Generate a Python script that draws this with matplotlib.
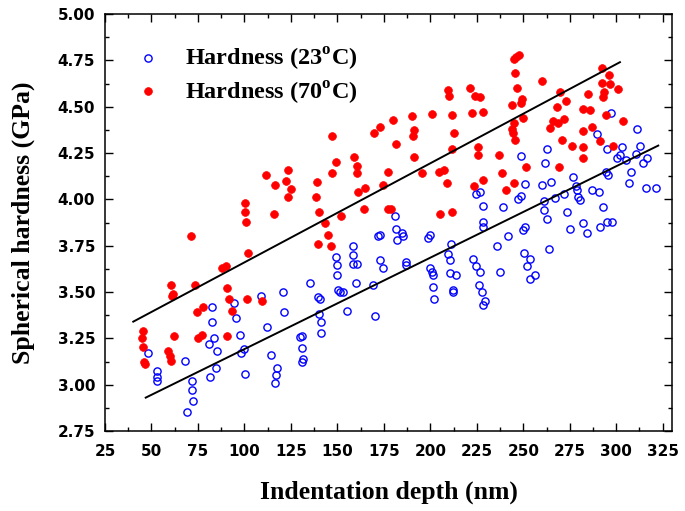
import matplotlib
matplotlib.use("Agg")
import matplotlib.pyplot as plt
from matplotlib.ticker import MultipleLocator

# ---- data ----
blue_x = [108.9, 120.9, 82.4, 94.6, 121.3, 82.7, 95.5, 112.0, 83.6, 81.0, 85.2, 97.6, 99.9, 98.2, 114.3,
          48.0, 68.0, 84.7, 81.5, 100.3, 117.7, 117.0, 116.4, 52.8, 52.8, 53.1, 71.6, 72.0, 72.5, 69.0,
          130.8, 129.9, 130.8, 131.7, 131.1, 141.0, 140.1, 141.2, 139.4, 140.7, 135.3, 150.5, 151.4, 153.2,
          155.0, 149.3, 149.6, 150.0, 158.2, 158.6, 158.6, 160.4, 160.0, 169.3, 170.2, 172.9, 174.4, 172.9,
          172.0, 181.0, 181.5, 185.0, 185.1, 182.2, 186.7, 186.7, 199.8, 198.9, 199.8, 200.7, 201.6, 201.6,
          202.1, 209.7, 210.6, 211.1, 210.6, 213.8, 212.4, 212.0, 222.7, 224.4, 226.7, 226.3, 227.6, 229.4,
          228.2, 226.7, 224.4, 228.2, 228.5, 228.2,
          297.2, 311.0, 289.8, 262.6, 294.8, 302.9, 312.8, 248.6, 261.7, 300.2, 302.0, 305.0, 310.9, 316.7,
          314.6, 294.3, 295.4, 307.8, 306.9, 276.9, 315.8, 321.4, 251.1, 259.9, 264.9, 278.4, 278.8, 279.6,
          280.5, 287.1, 290.7, 272.0, 267.1, 248.8, 247.0, 239.3, 261.2, 261.4, 263.0, 273.3, 292.7, 250.9,
          250.0, 241.9, 236.0, 275.1, 282.3, 284.1, 291.3, 294.8, 297.5, 264.0, 250.4, 253.6, 251.8, 256.3,
          253.6, 237.5]
blue_y = [3.48, 3.50, 3.42, 3.44, 3.39, 3.34, 3.36, 3.31, 3.25, 3.22, 3.18, 3.27, 3.19, 3.17, 3.16,
          3.17, 3.13, 3.09, 3.04, 3.06, 3.09, 3.05, 3.01, 3.075, 3.04, 3.02, 3.02, 2.97, 2.91, 2.85,
          3.26, 3.255, 3.20, 3.14, 3.12, 3.28, 3.38, 3.34, 3.475, 3.46, 3.55, 3.51, 3.50, 3.50,
          3.40, 3.69, 3.645, 3.59, 3.75, 3.70, 3.65, 3.65, 3.55, 3.54, 3.37, 3.67, 3.63, 3.81,
          3.80, 3.91, 3.84, 3.82, 3.80, 3.78, 3.66, 3.645, 3.81, 3.79, 3.63, 3.61, 3.59, 3.525,
          3.46, 3.705, 3.67, 3.76, 3.60, 3.59, 3.51, 3.50, 3.68, 3.64, 3.61, 3.54, 3.50, 3.45,
          3.43, 4.04, 4.03, 3.965, 3.88, 3.85,
          4.465, 4.38, 4.35, 4.27, 4.27, 4.28, 4.29, 4.235, 4.195, 4.225, 4.24, 4.21, 4.245, 4.225,
          4.195, 4.145, 4.13, 4.145, 4.09, 4.12, 4.06, 4.06, 4.085, 4.08, 4.095, 4.07, 4.05, 4.01,
          3.995, 4.05, 4.04, 4.03, 4.005, 4.02, 4.00, 3.96, 3.99, 3.94, 3.895, 3.93, 3.96, 3.85,
          3.835, 3.80, 3.75, 3.84, 3.87, 3.82, 3.85, 3.88, 3.88, 3.73, 3.71, 3.68, 3.64, 3.59,
          3.57, 3.61]

red_x = [60.3, 73.4, 61.7, 60.9, 90.5, 91.9, 101.2, 109.3, 77.9, 74.3, 93.1, 45.6, 44.7, 45.6, 46.0,
         46.3, 62.1, 59.1, 60.0, 60.3, 75.2, 77.0, 90.8,
         111.6, 123.6, 116.4, 122.2, 124.9, 123.6, 115.9, 100.3, 100.3, 100.7, 71.3, 101.8, 87.8, 89.9,
         209.7, 210.2, 221.3, 224.0, 226.7, 222.3, 228.2, 211.5, 200.7, 190.3, 180.1, 172.9, 169.9, 191.2,
         190.8, 212.7, 147.3, 181.5, 211.8, 225.9, 225.4, 191.4, 159.0, 160.4, 160.4, 149.3, 147.0, 177.1,
         195.7, 207.5, 204.4, 208.8, 228.2, 223.7, 174.7, 164.9, 161.3, 138.9, 138.5, 164.3, 177.4, 178.8,
         140.2, 151.8, 205.2, 211.8, 143.3, 145.1, 139.7, 146.4,
         247.7, 246.1, 245.0, 292.5, 296.1, 245.5, 259.9, 292.1, 296.6, 301.1, 293.6, 293.0, 246.8, 269.8,
         272.8, 268.0, 284.6, 249.1, 248.6, 243.8, 282.3, 285.9, 294.3, 303.4, 250.0, 266.1, 268.8, 272.0,
         264.4, 245.0, 243.8, 244.3, 245.5, 282.3, 286.8, 270.7, 276.4, 282.0, 282.3, 291.3, 298.1, 236.9,
         251.5, 269.2, 238.7, 245.0, 240.7]
red_y = [3.54, 3.54, 3.49, 3.48, 3.52, 3.46, 3.46, 3.45, 3.42, 3.39, 3.40, 3.29, 3.25, 3.205, 3.12,
         3.11, 3.26, 3.18, 3.155, 3.13, 3.25, 3.27, 3.26,
         4.13, 4.16, 4.08, 4.10, 4.055, 4.01, 3.92, 3.98, 3.93, 3.88, 3.80, 3.71, 3.63, 3.64,
         4.59, 4.555, 4.60, 4.56, 4.55, 4.465, 4.47, 4.455, 4.46, 4.45, 4.43, 4.39, 4.36, 4.375,
         4.34, 4.36, 4.34, 4.30, 4.27, 4.285, 4.24, 4.23, 4.23, 4.18, 4.14, 4.20, 4.14, 4.145,
         4.14, 4.16, 4.145, 4.09, 4.105, 4.07, 4.08, 4.06, 4.04, 4.095, 4.015, 3.95, 3.95, 3.95,
         3.93, 3.91, 3.92, 3.93, 3.875, 3.81, 3.76, 3.75,
         4.78, 4.77, 4.755, 4.71, 4.67, 4.68, 4.64, 4.63, 4.62, 4.595, 4.58, 4.55, 4.60, 4.58,
         4.53, 4.50, 4.57, 4.54, 4.52, 4.51, 4.49, 4.48, 4.455, 4.42, 4.44, 4.425, 4.41, 4.435,
         4.385, 4.41, 4.38, 4.36, 4.32, 4.37, 4.39, 4.32, 4.29, 4.285, 4.225, 4.315, 4.29, 4.24,
         4.175, 4.175, 4.14, 4.09, 4.05]

upper_line_x = [40.2, 302.0]
upper_line_y = [3.34, 4.74]
lower_line_x = [46.9, 322.6]
lower_line_y = [2.93, 4.29]

x_ticks = [25, 50, 75, 100, 125, 150, 175, 200, 225, 250, 275, 300, 325]
y_ticks = [2.75, 3.00, 3.25, 3.50, 3.75, 4.00, 4.25, 4.50, 4.75, 5.00]

label_blue = "Hardness (23$^{\\mathregular{o}}$C)"
label_red = "Hardness (70$^{\\mathregular{o}}$C)"

# ---- figure ----
fig = plt.figure(figsize=(6.85, 5.11), dpi=100)
ax = fig.add_axes([105/685, 80/511, 567/685, 417/511])

serif = "Liberation Serif"

ax.plot(blue_x, blue_y, linestyle="none", marker="o", markersize=5.2, markerfacecolor="none",
        markeredgecolor="#0000ff", markeredgewidth=1.0, label=label_blue)
ax.plot(red_x, red_y, linestyle="none", marker="o", markersize=5.6, markerfacecolor="#ff0000",
        markeredgecolor="#ff0000", markeredgewidth=0.5, label=label_red)
ax.plot(upper_line_x, upper_line_y, color="black", linewidth=1.4)
ax.plot(lower_line_x, lower_line_y, color="black", linewidth=1.4)

ax.set_xlim(25, 330)
ax.set_ylim(2.75, 5.00)
ax.set_xticks(x_ticks)
ax.set_yticks(y_ticks)
ax.set_xticklabels([str(t) for t in x_ticks])
ax.set_yticklabels(["%.2f" % t for t in y_ticks])
ax.xaxis.set_minor_locator(MultipleLocator(12.5))
ax.yaxis.set_minor_locator(MultipleLocator(0.125))

ax.tick_params(which="both", direction="in", top=True, right=True, width=1.0, color="black")
ax.tick_params(which="major", length=5.5)
ax.tick_params(which="minor", length=3.2)
ax.tick_params(axis="x", which="major", pad=9)
ax.tick_params(axis="y", which="major", pad=7)
for lab in ax.get_xticklabels() + ax.get_yticklabels():
    lab.set_fontfamily("DejaVu Sans")
    lab.set_fontweight("bold")
    lab.set_fontsize(11)
for sp in ax.spines.values():
    sp.set_linewidth(1.1)

ax.set_xlabel("Indentation depth (nm)", fontfamily=serif, fontweight="bold", fontsize=18.5, labelpad=16)
ax.set_ylabel("Spherical hardness (GPa)", fontfamily=serif, fontweight="bold", fontsize=18.5, labelpad=16)

leg = ax.legend(loc="upper left", bbox_to_anchor=(0.012, 0.975), frameon=False,
                prop={"family": serif, "weight": "bold", "size": 17.5},
                handletextpad=0.9, labelspacing=0.28, handlelength=1.2, numpoints=1)

fig.savefig("out.png", dpi=100)
